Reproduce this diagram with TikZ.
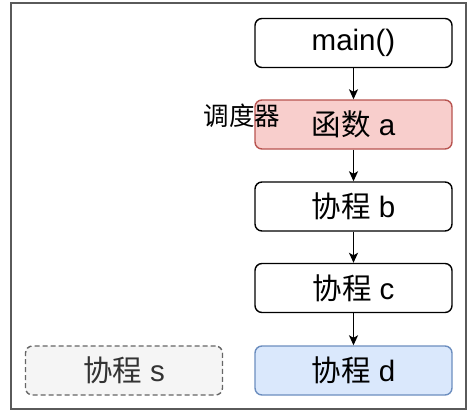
\documentclass[tikz,border=0pt]{standalone}
\usepackage{fontspec}
\setmainfont{Liberation Sans}
\newfontfamily\cjk{Noto Sans CJK SC}
\usetikzlibrary{arrows.meta}
\definecolor{redfill}{HTML}{F8CECC}
\definecolor{redline}{HTML}{B85450}
\definecolor{bluefill}{HTML}{DAE8FC}
\definecolor{blueline}{HTML}{6C8EBF}
\definecolor{grayfill}{HTML}{F5F5F5}
\definecolor{grayline}{HTML}{666666}
\definecolor{graytext}{HTML}{333333}
\definecolor{framecol}{HTML}{5A5A5A}
\begin{document}
\begin{tikzpicture}[x=1pt,y=-1pt,
  box/.style={draw=black,fill=white,line width=1.4pt,rounded corners=7pt,
    minimum width=197pt,minimum height=49pt,inner sep=0pt,
    font=\fontsize{29.5}{31}\selectfont},
  redbox/.style={box,draw=redline,fill=redfill},
  bluebox/.style={box,draw=blueline,fill=bluefill},
  graybox/.style={box,draw=grayline,fill=grayfill,dashed,dash pattern=on 5pt off 3pt,text=graytext},
  conn/.style={line width=1.4pt,-{Stealth[length=10pt,width=9pt,inset=2.5pt]}}]
\useasboundingbox (0,0) rectangle (472,413);
\node[draw=framecol,line width=1.3pt,minimum width=455pt,minimum height=406pt,inner sep=0pt] (frame) at (238.5,206) {};
\node[box] (main) at (353.5,43) {main()};
\node[redbox] (a) at (353.5,124.5) {{\cjk 函数} a};
\node[box] (b) at (353.5,206.5) {{\cjk 协程} b};
\node[box] (c) at (353.5,288) {{\cjk 协程} c};
\node[bluebox] (d) at (353.5,370.5) {{\cjk 协程} d};
\node[graybox] (s) at (124,370.5) {{\cjk 协程} s};
\node[font=\cjk\fontsize{25.5}{27}\selectfont,inner sep=0pt] (sched) at (242,116) {调度器};
\draw[conn] (main) -- (a);
\draw[conn] (a) -- (b);
\draw[conn] (b) -- (c);
\draw[conn] (c) -- (d);
\end{tikzpicture}
\end{document}
